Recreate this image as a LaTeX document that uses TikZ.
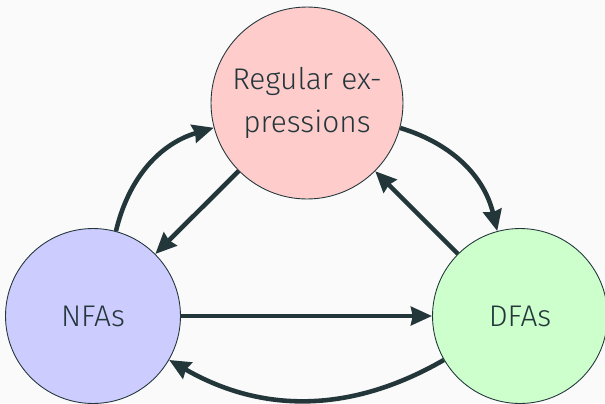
\documentclass[tikz,border=0pt]{standalone}
\usepackage{fontspec}
\setmainfont{Fira Sans Light}
\usepackage{xcolor}
\usetikzlibrary{arrows.meta}
\definecolor{darkteal}{HTML}{23373B}
\definecolor{slidebg}{HTML}{FAFAFA}
\begin{document}
\begin{tikzpicture}[x=0.02cm,y=-0.02cm,
	state/.style={circle,draw=darkteal,line width=0.5pt,inner sep=0pt,text=darkteal,minimum size=3.5cm,font=\fontsize{17}{24}\selectfont},
	conv/.style={draw=darkteal,line width=2.6pt,-{Stealth[length=12pt,width=10.5pt,inset=1pt]}}]
	\fill[slidebg] (0,0) rectangle (605,403);
	\useasboundingbox (0,0) rectangle (605,403);
	\node [state,fill=red!20,minimum size=3.84cm,align=center] (re) at (307,103) {Regular ex-\\pressions};
	\node [state,fill=blue!20] (nfa) at (93,316) {NFAs};
	\node [state,fill=green!20] (dfa) at (520,316) {DFAs};
	% around the triangle
	\draw [conv] (re) to [bend left=30] (dfa);
	\draw [conv] (dfa) to [bend left=30] (nfa);
	\draw [conv] (nfa) to [bend left=30] (re);
	% straight back
	\draw [conv] (re) -- (nfa);
	\draw [conv] (dfa) -- (re);
	\draw [conv] (nfa) -- (dfa);
\end{tikzpicture}
\end{document}
